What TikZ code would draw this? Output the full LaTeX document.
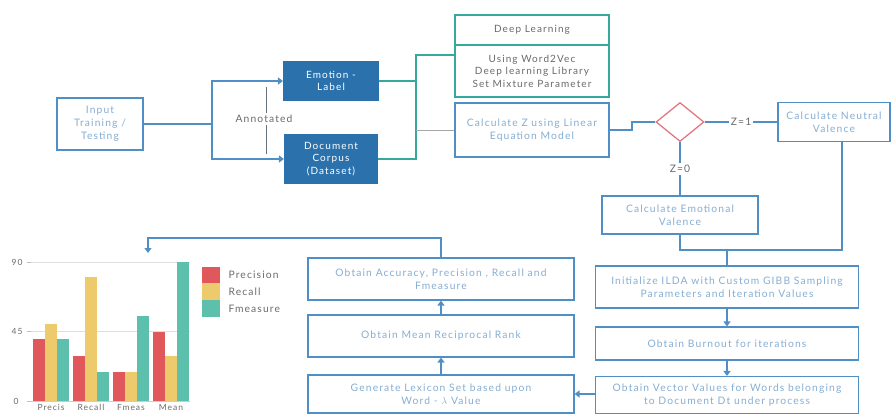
\documentclass[tikz,border=0pt]{standalone}
\usepackage{fontspec}
\setmainfont{Lato}[LetterSpace=11]
\usetikzlibrary{shapes.geometric,arrows.meta}
\definecolor{bbord}{HTML}{4F8FC6}
\definecolor{btext}{HTML}{86AED3}
\definecolor{dfill}{HTML}{2B72AD}
\definecolor{tealL}{HTML}{35A99B}
\definecolor{diar}{HTML}{E27880}
\definecolor{cred}{HTML}{E0585C}
\definecolor{cyel}{HTML}{EDCB6C}
\definecolor{cteal}{HTML}{5CC0AD}
\definecolor{gtext}{HTML}{6A6A6A}
\begin{document}
\begin{tikzpicture}[x=1pt,y=-1pt,
  bx/.style={draw=bbord, line width=1.1pt, fill=white, text=btext, align=center,
    font=\fontsize{10.3}{13}\selectfont, inner sep=1pt},
  dbx/.style={draw=dfill, line width=1.1pt, fill=dfill, text=white, align=center,
    font=\fontsize{10}{12.5}\selectfont, inner sep=1pt},
  tbx/.style={draw=tealL, line width=1.1pt, fill=white, text=gtext, align=center,
    font=\fontsize{10}{12.5}\selectfont, inner sep=1pt},
  ln/.style={draw=bbord, line width=1.2pt},
  tln/.style={draw=tealL, line width=1.2pt},
  arr/.style={ln, -{Triangle[width=7pt,length=5pt]}},
  lbl/.style={font=\fontsize{10.3}{12}\selectfont, text=gtext, fill=white, inner sep=2pt},
  small/.style={font=\fontsize{8.5}{10}\selectfont, text=gtext},
  leg/.style={font=\fontsize{10.3}{12}\selectfont, text=gtext}]
\useasboundingbox (0,0) rectangle (895,415);

% top-left part
\node[bx, minimum width=86pt, minimum height=52pt] (in) at (100,124) {Input\\Training /\\Testing};
\node[dbx, minimum width=95pt, minimum height=38pt] (emo) at (331,81) {Emotion -\\Label};
\node[dbx, minimum width=93pt, minimum height=48pt] (doc) at (331,159) {Document\\Corpus\\(Dataset)};
\coordinate (sp) at (212,124);
\draw[ln] (in.east) -- (sp);
\draw[arr] (sp) |- (emo.west);
\draw[arr] (sp) |- (doc.west);
\node[lbl, fill=none] (ann) at (264,119) {Annotated};
\draw[draw=gtext!80!bbord, line width=0.9pt] (ann.north -| 266,0) -- (266,87);
\draw[draw=gtext!80!bbord, line width=0.9pt] (ann.south -| 266,0) -- (266,154);

% deep learning group
\node[tbx, minimum width=154pt, minimum height=30pt] (dl1) at (532,30) {Deep Learning};
\node[tbx, minimum width=154pt, minimum height=52pt] (dl2) at (532,71) {Using Word2Vec\\Deep learning Library\\Set Mixture Parameter};
\node[bx, minimum width=154pt, minimum height=54pt] (cz) at (532,130) {Calculate Z using Linear\\Equation Model};
\coordinate (j1) at (416,55);
\draw[tln] (emo.east) -- (emo.east -| j1);
\draw[tln] (doc.east) -- (doc.east -| j1) -- (j1) -- (j1 -| dl2.west);
\draw[draw=gray!70, line width=0.9pt] (cz.west -| j1) -- (cz.west);

% decision
\node[diamond, draw=diar, line width=1.3pt, inner sep=0pt, minimum width=48pt, minimum height=39pt] (dia) at (680,122) {};
\coordinate (k1) at (632,130);
\draw[ln] (cz.east) -- (k1) |- (dia.west);
\node[bx, minimum width=112pt, minimum height=39pt] (neu) at (834,122) {Calculate Neutral\\Valence};
\node[bx, minimum width=156pt, minimum height=38pt] (emv) at (680,215) {Calculate Emotional\\Valence};
\draw[ln] (dia.east) -- node[lbl] {Z=1} (neu.west);
\draw[ln] (dia.south) -- node[lbl] {Z=0} (emv.north);

% right column
\node[bx, minimum width=263pt, minimum height=42pt] (ini) at (727,287) {Initialize ILDA with Custom GIBB Sampling\\Parameters and Iteration Values};
\node[bx, minimum width=263pt, minimum height=33pt] (bur) at (727,343.5) {Obtain Burnout for iterations};
\node[bx, minimum width=263pt, minimum height=37pt] (vec) at (727,395) {Obtain Vector Values for Words belonging\\to Document Dt under process};
\coordinate (m1) at (680,250);
\coordinate (m2) at (842,250);
\draw[ln] (emv.south) -- (m1) -- (m2) -- (m2 |- neu.south);
\draw[ln] (ini.north |- m1) -- (ini.north);
\draw[arr] (ini.south) -- (bur.north);
\draw[arr] (bur.south) -- (vec.north);

% middle column
\node[bx, minimum width=266pt, minimum height=38pt] (lex) at (441,394) {Generate Lexicon Set based upon\\Word - $\lambda$ Value};
\node[bx, minimum width=266pt, minimum height=42pt] (mrr) at (441,336) {Obtain Mean Reciprocal Rank};
\node[bx, minimum width=266pt, minimum height=42pt] (acc) at (441,279) {Obtain Accuracy, Precision , Recall and\\Fmeasure};
\draw[arr] (vec.west |- lex.east) -- (lex.east);
\draw[arr] (lex.north) -- (mrr.south);
\draw[arr] (mrr.north) -- (acc.south);
\coordinate (c1) at (148,238);
\coordinate (c2) at (148,253);
\draw[arr] (acc.north) -- (acc.north |- c1) -- (c1) -- (c2);

% chart
\draw[gray!25, line width=0.6pt] (31,262) -- (190,262);
\draw[gray!25, line width=0.6pt] (31,331) -- (190,331);
\draw[gray!40, line width=0.6pt] (31,401) -- (190,401);
\draw[gray!50, line width=0.6pt] (27,262) -- (31,262) (27,331) -- (31,331) (27,401) -- (31,401);
\node[small, anchor=east] (t90) at (26,262) {90};
\node[small, anchor=east] (t45) at (26,331) {45};
\node[small, anchor=east] (t0) at (22,401) {0};
\foreach \g/\r/\yy/\t/\nm in {33/40/50/40/Precis, 73/29/80/19/Recall, 113/19/19/55/Fmeas, 153/45/29/90/Mean}{
  \fill[cred] (\g,401) rectangle ++(12,-\r*1.544);
  \fill[cyel] (\g+12,401) rectangle ++(12,-\yy*1.544);
  \fill[cteal] (\g+24,401) rectangle ++(12,-\t*1.544);
  \node[small, anchor=north, inner sep=1pt] at (\g+18,403) {\nm};
}
\fill[cred] (202,267) rectangle (220,283);
\fill[cyel] (202,283) rectangle (220,300);
\fill[cteal] (202,300) rectangle (220,317);
\node[leg, anchor=west] (lp) at (225,275) {Precision};
\node[leg, anchor=west] (lr) at (225,292) {Recall};
\node[leg, anchor=west] (lf) at (225,309) {Fmeasure};
\end{tikzpicture}
\end{document}
